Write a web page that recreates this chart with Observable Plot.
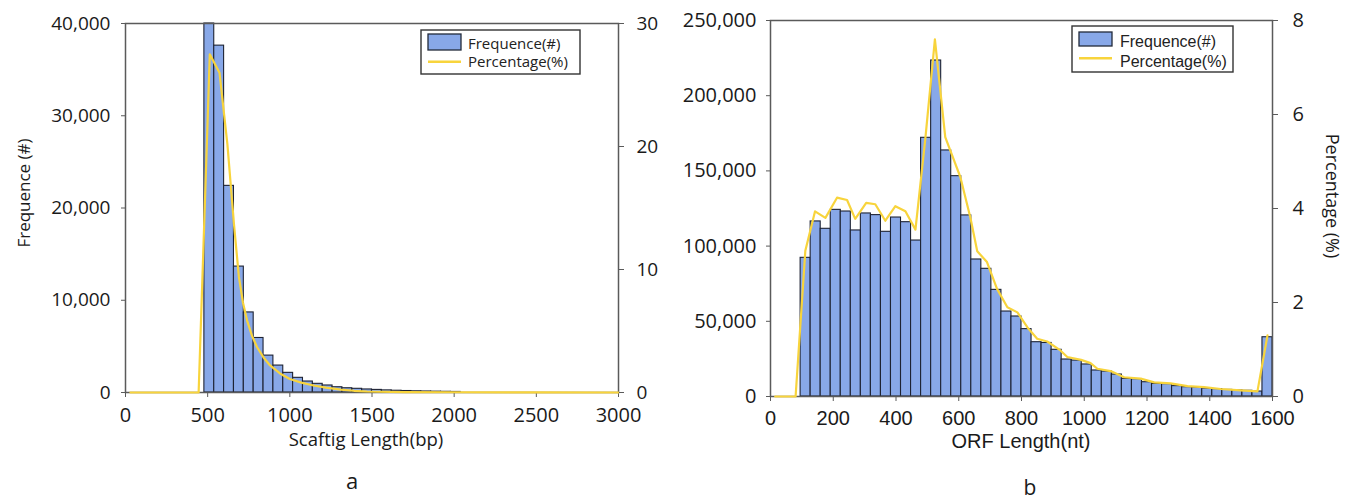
<!DOCTYPE html>
<html><head><meta charset="utf-8">
<script src="https://cdn.jsdelivr.net/npm/d3@7"></script>
<script src="https://cdn.jsdelivr.net/npm/@observablehq/plot@0.6"></script>
<style>
body{margin:0;background:#fff;}
#root{position:relative;width:1346px;height:503px;overflow:hidden;background:#fff;}
#root svg{position:absolute;}
</style></head><body><div id="root"></div>
<script>
// ---------- data (panel a: Scaftig length) ----------
const scaftigEdges = [480,540,600,660,720,780,840,900,960,1020,1080,1140,1200,1260,1320,1380,1440,1500,1560,1620,1680,1740,1800,1860,1920,1980,2040];
const scaftigCount = [40000,37600,22400,13650,8680,5910,4000,2920,2130,1590,1190,940,760,570,460,400,330,280,230,190,160,130,110,90,75,60];
const scaftigPctLength = [30,445,513,572,620,660,690,715,740,770,800,840,880,940,1000,1070,1145,1220,1310,1390,1470,1700,2000,2500,3000];
const scaftigPct = [0,0,27.5,26.0,20.2,13.7,9.4,7.3,5.85,4.6,3.7,2.85,2.2,1.55,1.1,0.8,0.57,0.4,0.24,0.14,0.08,0.03,0.02,0.01,0];
const scaftigXTicks = [0,500,1000,1500,2000,2500,3000];
const scaftigYTicks = [0,10000,20000,30000,40000];
const scaftigPctTicks = [0,10,20,30];

// ---------- data (panel b: ORF length) ----------
const orfEdges = [96,128,160,192,224,256,288,320,352,384,416,448,480,512,544,576,608,640,672,704,736,768,800,832,864,896,928,960,992,1024,1056,1088,1120,1152,1184,1216,1248,1280,1312,1344,1376,1408,1440,1472,1504,1536,1568,1600];
const orfCount = [92200,116400,111500,124100,123000,110400,121700,120600,109500,119000,115900,103700,172000,223400,163600,146500,120400,91100,84900,70900,56500,53200,44800,36100,35600,31050,24600,23900,21300,17300,16600,14600,11750,11500,9500,8400,8200,6900,6200,6000,5300,4900,4400,4000,3800,3300,39400];
const orfPctLength = [15,80,111,142,175,212,244,270,305,334,366,398,430,462,494,524,557,579,605,637,659,690,722,755,787,819,850,882,924,946,990,1020,1042,1084,1127,1180,1223,1275,1329,1382,1435,1499,1552,1584];
const orfPct = [0,0,3.1,3.94,3.80,4.23,4.18,3.78,4.12,4.09,3.74,4.05,3.94,3.55,5.52,7.6,5.52,5.13,4.67,3.81,3.09,2.86,2.29,1.90,1.79,1.47,1.23,1.17,0.98,0.84,0.78,0.71,0.59,0.54,0.41,0.38,0.30,0.28,0.22,0.20,0.16,0.13,0.11,1.30];
const orfXTicks = [0,200,400,600,800,1000,1200,1400,1600];
const orfYTicks = [0,50000,100000,150000,200000,250000];
const orfPctTicks = [0,2,4,6,8];

const legendLabels = ["Frequence(#)","Percentage(%)"];

// ---------- styles ----------
const BAR = "#88a8e8", BAR_STROKE = "#1e2333", LINE = "#f8d43c", AXIS = "#5a5a5a", TEXT = "#1a1a1a";
const root = document.getElementById("root");
function place(svg, left, top){ svg.style.left = left+"px"; svg.style.top = top+"px"; root.append(svg); }
const fmtComma = d3.format(",");
const fmtPlain = d => String(d);

function panel({left, mL, mR, mT, mB, xDomain, yDomain, pctDomain, edges, counts, pctX, pctY,
                xTicks, yTicks, pctTicks, xFont, yFont, pctFont, xFs, yFs, pctFs, yPad, pctPad, xPad}) {
  const common = {width:673, height:440, marginLeft:mL, marginRight:mR, marginTop:mT, marginBottom:mB};
  const bars = Plot.plot({
    ...common,
    style:{background:"transparent", color:TEXT, overflow:"visible"},
    x:{domain:xDomain, label:null},
    y:{domain:yDomain, label:null},
    marks:[
      Plot.rectY(counts.map((c,i)=>({a:edges[i], b:edges[i+1], v:c})),
        {x1:"a", x2:"b", y:"v", fill:BAR, stroke:BAR_STROKE, strokeWidth:1.1}),
      Plot.frame({stroke:AXIS, strokeWidth:1.5}),
      Plot.axisY(yTicks, {tickSize:4, tickPadding:yPad, fontSize:yFs, fontFamily:yFont, tickFormat:fmtComma, label:null, stroke:AXIS}),
      Plot.axisX(xTicks, {tickSize:5, tickPadding:xPad, fontSize:xFs, fontFamily:xFont, tickFormat:fmtPlain, label:null, stroke:AXIS})
    ]
  });
  place(bars, left, 0);
  const line = Plot.plot({
    ...common,
    style:{background:"transparent", color:TEXT, overflow:"visible"},
    x:{domain:xDomain, axis:null, label:null},
    y:{domain:pctDomain, label:null},
    marks:[
      Plot.line(pctY.map((p,i)=>({l:pctX[i], p})), {x:"l", y:"p", stroke:LINE, strokeWidth:2.2}),
      Plot.axisY(pctTicks, {anchor:"right", tickSize:5, tickPadding:pctPad, fontSize:pctFs, fontFamily:pctFont, tickFormat:fmtPlain, label:null, stroke:AXIS})
    ]
  });
  place(line, left, 0);
}

panel({left:0, mL:125, mR:55, mT:23, mB:48, xDomain:[0,3000], yDomain:[0,40000], pctDomain:[0,30],
  edges:scaftigEdges, counts:scaftigCount, pctX:scaftigPctLength, pctY:scaftigPct,
  xTicks:scaftigXTicks, yTicks:scaftigYTicks, pctTicks:scaftigPctTicks,
  xFont:"Open Sans", yFont:"Open Sans", pctFont:"Open Sans", xFs:20, yFs:19, pctFs:19, yPad:11, pctPad:13, xPad:10});

panel({left:673, mL:97, mR:74, mT:20, mB:44, xDomain:[0,1600], yDomain:[0,250000], pctDomain:[0,8],
  edges:orfEdges, counts:orfCount, pctX:orfPctLength, pctY:orfPct,
  xTicks:orfXTicks, yTicks:orfYTicks, pctTicks:orfPctTicks,
  xFont:"Liberation Sans", yFont:"Open Sans", pctFont:"Open Sans", xFs:20, yFs:20, pctFs:20, yPad:10, pctPad:15, xPad:9});

// ---------- titles, panel letters and legends ----------
const ov = d3.create("svg").attr("width",1346).attr("height",503).style("left","0px").style("top","0px").style("pointer-events","none");
function txt(x,y,s,fs,fam,rot){
  ov.append("text").attr("transform",`translate(${x},${y})`+(rot?` rotate(${rot})`:""))
    .attr("text-anchor","middle").attr("dominant-baseline","central")
    .attr("font-family",fam).attr("font-size",fs).attr("fill",TEXT).text(s);
}
txt(23,193,"Frequence (#)",17,"Open Sans",-90);
txt(366,438,"Scaftig Length(bp)",18.5,"Open Sans");
txt(352,480,"a",22,"Open Sans");
txt(1021,441,"ORF Length(nt)",20,"Liberation Sans");
txt(1333,196,"Percentage (%)",18,"Open Sans",90);
txt(1030,487,"b",21,"Open Sans");

function legend(x,y,w,h,sw,sh,lineY,tx,b1,b2,fs,fam){
  ov.append("rect").attr("x",x).attr("y",y).attr("width",w).attr("height",h).attr("fill","#fff").attr("stroke","#333").attr("stroke-width",1.4);
  ov.append("rect").attr("x",x+7).attr("y",y+(sh[0])).attr("width",sw).attr("height",sh[1]).attr("fill",BAR).attr("stroke","#222a3a").attr("stroke-width",1.3);
  ov.append("line").attr("x1",x+7).attr("x2",x+7+sw).attr("y1",lineY).attr("y2",lineY).attr("stroke",LINE).attr("stroke-width",2.5);
  ov.append("text").attr("x",tx).attr("y",b1).attr("font-size",fs).attr("font-family",fam).attr("fill","#222").text(legendLabels[0]);
  ov.append("text").attr("x",tx).attr("y",b2).attr("font-size",fs).attr("font-family",fam).attr("fill","#222").text(legendLabels[1]);
}
legend(421,30,159,44,33,[4,16],61.7,468,48.5,67,15,"Open Sans");
legend(1072,26,161,46,33,[6,14],58.3,1120,46.7,66.7,16,"Liberation Sans");
root.append(ov.node());
</script></body></html>
